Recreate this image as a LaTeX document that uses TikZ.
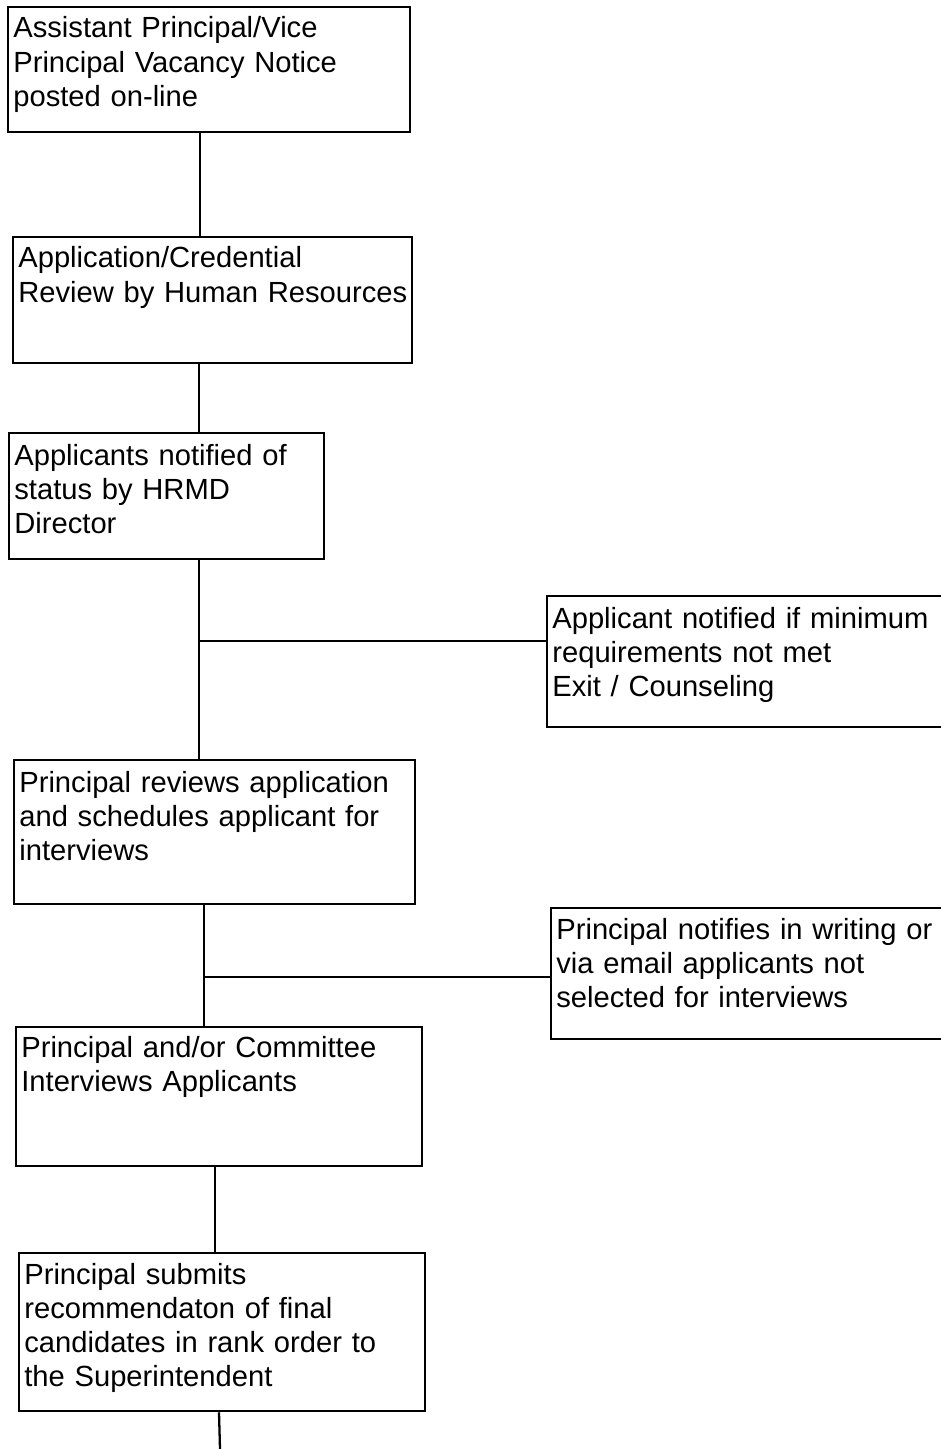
\documentclass[tikz,border=0pt]{standalone}
\usepackage{fontspec}
\setmainfont{Liberation Sans}
\usetikzlibrary{positioning}

\begin{document}
\begin{tikzpicture}[x=0.02cm,y=-0.02cm,
  stepbox/.style={draw,line width=1.3pt,rectangle,anchor=north west,inner sep=0pt},
  steptext/.style={anchor=base west,inner sep=0pt,text width=8.2cm,align=left,
    font=\fontsize{16.6}{19.4}\selectfont},
  link/.style={line width=1.3pt}]
  \useasboundingbox (0,0) rectangle (940,1449);

  \node[stepbox,minimum width=8.04cm,minimum height=2.50cm] (b1) at (7,6) {};
  \node[steptext] (t1) at ([shift={(6,32)}]b1.north west) {Assistant Principal/Vice\\Principal Vacancy Notice\\posted on-line};

  \node[stepbox,minimum width=7.98cm,minimum height=2.52cm] (b2) at (12,236) {};
  \node[steptext] (t2) at ([shift={(6,32)}]b2.north west) {Application/Credential\\Review by Human Resources};

  \node[stepbox,minimum width=6.30cm,minimum height=2.52cm] (b3) at (8,432) {};
  \node[steptext] (t3) at ([shift={(6,33)}]b3.north west) {Applicants notified of\\status by HRMD\\Director};

  \node[stepbox,minimum width=8.20cm,minimum height=2.62cm] (b4) at (546,595) {};
  \node[steptext] (t4) at ([shift={(6,33)}]b4.north west) {Applicant notified if minimum\\requirements not met\\Exit / Counseling};

  \node[stepbox,minimum width=8.02cm,minimum height=2.88cm] (b5) at (13,759) {};
  \node[steptext] (t5) at ([shift={(6,33)}]b5.north west) {Principal reviews application\\and schedules applicant for\\interviews};

  \node[stepbox,minimum width=8.00cm,minimum height=2.62cm] (b6) at (550,907) {};
  \node[steptext] (t6) at ([shift={(6,32)}]b6.north west) {Principal notifies in writing or\\via email applicants not\\selected for interviews};

  \node[stepbox,minimum width=8.12cm,minimum height=2.78cm] (b7) at (15,1026) {};
  \node[steptext] (t7) at ([shift={(6,31)}]b7.north west) {Principal and/or Committee\\Interviews Applicants};

  \node[stepbox,minimum width=8.12cm,minimum height=3.16cm] (b8) at (18,1252) {};
  \node[steptext] (t8) at ([shift={(6,32)}]b8.north west) {Principal submits\\recommendaton of final\\candidates in rank order to\\the Superintendent};

  \coordinate (s1) at (200,0);
  \coordinate (s2) at (199,0);
  \coordinate (j1) at (199,641);
  \coordinate (j2) at (204,977);
  \coordinate (s5) at (215,0);
  \coordinate (s6) at (219,0);
  \coordinate (tail) at (220,1449);

  \draw[link] (b1.south -| s1) -- (b2.north -| s1);
  \draw[link] (b2.south -| s2) -- (b3.north -| s2);
  \draw[link] (b3.south -| j1) -- (b5.north -| j1);
  \draw[link] (j1) -- (b4.west |- j1);
  \draw[link] (b5.south -| j2) -- (b7.north -| j2);
  \draw[link] (j2) -- (b6.west |- j2);
  \draw[link] (b7.south -| s5) -- (b8.north -| s5);
  \draw[link] (b8.south -| s6) -- (tail);
\end{tikzpicture}
\end{document}
